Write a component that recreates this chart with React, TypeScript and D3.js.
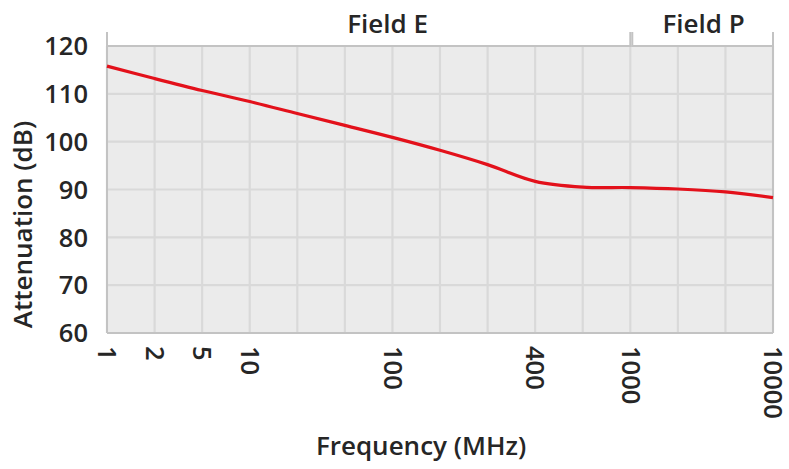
import React from "react";
import * as d3 from "d3";

// frequency categories (MHz), evenly spaced like the original category axis
const frequencies = ["1", "2", "5", "10", "20", "50", "100", "200", "300", "400", "700", "1000", "2000", "5000", "10000"];
const tickLabels = ["1", "2", "5", "10", "", "", "100", "", "", "400", "", "1000", "", "", "10000"];
const attenuation = [115.8, 113.2, 110.7, 108.4, 105.9, 103.4, 100.9, 98.2, 95.2, 91.7, 90.5, 90.4, 90.1, 89.5, 88.3];
const yTicks = [60, 70, 80, 90, 100, 110, 120];
const fieldNames = ["Field E", "Field P"];
const fieldStart = ["1", "1000"];
const fieldEnd = ["1000", "10000"];

const W = 789;
const H = 469;
const margin = {top: 46, right: 16, bottom: 136, left: 107};
const font = "'Open Sans', 'DejaVu Sans', sans-serif";
const ink = "#262626";

const App = () => {
    const x = d3.scalePoint<string>()
        .domain(frequencies)
        .range([margin.left, W - margin.right]);

    const y = d3.scaleLinear()
        .domain([60, 120])
        .range([H - margin.bottom, margin.top]);

    const line = d3.line<number>()
        .x((d, i) => x(frequencies[i]) as number)
        .y(d => y(d))
        .curve(d3.curveCatmullRom.alpha(0.5));

    const x0 = margin.left;
    const x1 = W - margin.right;
    const y0 = y(60);
    const y1 = y(120);
    // label nudges so the titles sit where excel put them
    const fieldDx = [19, 2];

    return (
        <svg width={W} height={H} style={{position: "absolute", left: 0, top: 0, display: "block"}}>
            <rect x={0} y={0} width={W} height={H} fill="#ffffff"/>
            {/* plot background */}
            <rect x={x0} y={y1} width={x1 - x0} height={y0 - y1} fill="#ebebeb"/>
            {/* grid */}
            <g stroke="#d9d9d9" strokeWidth={2.2}>
                {frequencies.map(f => (
                    <line key={"v" + f} x1={x(f)} x2={x(f)} y1={y1} y2={y0}/>
                ))}
                {yTicks.map(t => (
                    <line key={"h" + t} x1={x0} x2={x1} y1={y(t)} y2={y(t)}/>
                ))}
            </g>
            {/* frame */}
            <g stroke="#c3c3c3" strokeWidth={2} fill="none">
                <line x1={x0} x2={x1} y1={y0} y2={y0}/>
                <line x1={x0} x2={x0} y1={y0} y2={y1}/>
                <line x1={x1} x2={x1} y1={y0} y2={y1}/>
            </g>
            {/* field brackets */}
            <g stroke="#c3c3c3" strokeWidth={2} fill="none">
                {fieldNames.map((n, i) => {
                    const a = x(fieldStart[i]) as number;
                    const b = x(fieldEnd[i]) as number;
                    return (
                        <path key={n} d={`M${a + (i > 0 ? 2 : 0)},${y1 - 14}V${y1}H${b}V${y1 - 14}`}/>
                    );
                })}
            </g>
            {fieldNames.map((n, i) => {
                const a = x(fieldStart[i]) as number;
                const b = x(fieldEnd[i]) as number;
                return (
                    <text key={"t" + n} x={(a + b) / 2 + fieldDx[i]} y={y1 - 13} textAnchor="middle"
                          fontFamily={font} fontSize={26} fontWeight={600} fill={ink}>{n}</text>
                );
            })}
            {/* data line */}
            <path d={line(attenuation) || ""} fill="none" stroke="#e3111b" strokeWidth={3.2}/>
            {/* y axis labels */}
            {yTicks.map(t => (
                <text key={"yl" + t} x={x0 - 19} y={y(t)} dy="0.36em" textAnchor="end"
                      fontFamily={font} fontSize={25.5} fontWeight={600} fill={ink}>{t}</text>
            ))}
            {/* x axis labels */}
            {frequencies.map((f, i) => tickLabels[i] ? (
                <text key={"xl" + f} transform={`translate(${x(f)},${y0 + 13}) rotate(90)`} dy="0.34em"
                      textAnchor="start" fontFamily={font} fontSize={25.5} fontWeight={600}
                      fill={ink}>{tickLabels[i]}</text>
            ) : null)}
            {/* axis titles */}
            <text transform={`translate(23,${(y0 + y1) / 2 + 35}) rotate(-90)`} dy="0.36em" textAnchor="middle"
                  fontFamily={font} fontSize={26} fontWeight={600} fill={ink}>Attenuation (dB)</text>
            <text x={421} y={455} textAnchor="middle"
                  fontFamily={font} fontSize={26} fontWeight={600} fill={ink}>Frequency (MHz)</text>
        </svg>
    );
};

export default App;
